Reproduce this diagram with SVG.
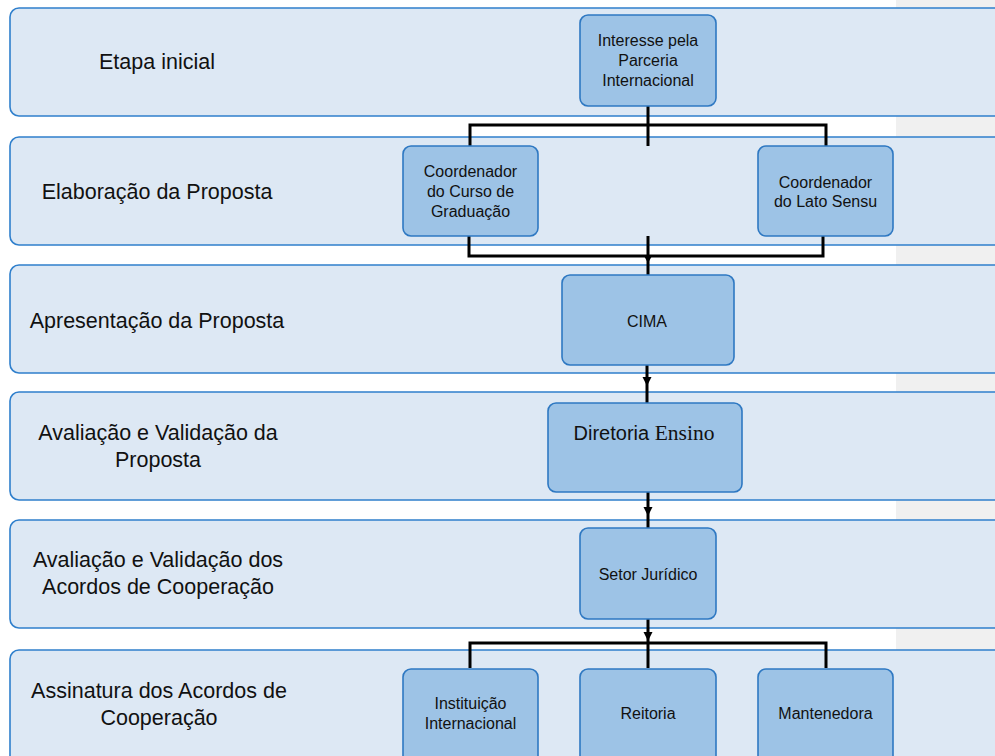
<svg xmlns="http://www.w3.org/2000/svg" width="995" height="756" viewBox="0 0 995 756">
<style>
.lane{fill:#dde8f4;stroke:#2f7fcc;stroke-width:1.6}
.node{fill:#9dc3e6;stroke:#2e78c2;stroke-width:1.6}
.lbl{font-family:"Liberation Sans",Arial,sans-serif;font-size:21.5px;fill:#111;text-anchor:middle}
.nt{font-family:"Liberation Sans",Arial,sans-serif;font-size:16px;fill:#111;text-anchor:middle}
.con{fill:none;stroke:#000;stroke-width:3}
.ah{fill:#000}
</style>
<rect x="0" y="0" width="995" height="756" fill="#ffffff"/>
<rect x="896" y="0" width="99" height="756" fill="#f0f0f0"/>

<g id="lane1"><rect class="lane" x="10" y="8" width="1010" height="108" rx="9"/><text class="lbl" x="157" y="69">Etapa inicial</text></g>
<g id="lane2"><rect class="lane" x="10" y="137" width="1010" height="108" rx="9"/><text class="lbl" x="157" y="199">Elaboração da Proposta</text></g>
<g id="lane3"><rect class="lane" x="10" y="265" width="1010" height="108" rx="9"/><text class="lbl" x="157" y="328">Apresentação da Proposta</text></g>
<g id="lane4"><rect class="lane" x="10" y="392" width="1010" height="108" rx="9"/><text class="lbl" x="158" y="440">Avaliação e Validação da</text><text class="lbl" x="158" y="467">Proposta</text></g>
<g id="lane5"><rect class="lane" x="10" y="520" width="1010" height="108" rx="9"/><text class="lbl" x="158" y="567">Avaliação e Validação dos</text><text class="lbl" x="158" y="594">Acordos de Cooperação</text></g>
<g id="lane6"><rect class="lane" x="10" y="650" width="1010" height="130" rx="9"/><text class="lbl" x="159" y="698">Assinatura dos Acordos de</text><text class="lbl" x="159" y="725">Cooperação</text></g>

<g id="connectors">
<path class="con" d="M648 106 V146 M470 147 V125 H826 V147"/>
<path class="con" d="M469 236 V256 H823 V236 M648 236 V275"/>
<polygon class="ah" points="643.5,255 652.5,255 648,263"/>
<path class="con" d="M647 365 V403"/>
<polygon class="ah" points="642.5,377 651.5,377 647,386"/>
<path class="con" d="M648 492 V528"/>
<polygon class="ah" points="643.5,507 652.5,507 648,516"/>
<path class="con" d="M648 619 V668 M470 668 V643 H826 V668"/>
<polygon class="ah" points="643.5,632 652.5,632 648,641"/>
</g>

<g id="n-interesse"><rect class="node" x="580" y="15" width="136" height="91" rx="8"/><text class="nt" x="648" y="46">Interesse pela</text><text class="nt" x="648" y="66">Parceria</text><text class="nt" x="648" y="86">Internacional</text></g>
<g id="n-coord-grad"><rect class="node" x="403" y="146" width="135" height="90" rx="8"/><text class="nt" x="470.5" y="177">Coordenador</text><text class="nt" x="470.5" y="197">do Curso de</text><text class="nt" x="470.5" y="217">Graduação</text></g>
<g id="n-coord-lato"><rect class="node" x="758" y="146" width="135" height="90" rx="8"/><text class="nt" x="825.5" y="188">Coordenador</text><text class="nt" x="825.5" y="207">do Lato Sensu</text></g>
<g id="n-cima"><rect class="node" x="562" y="275" width="172" height="90" rx="8"/><text class="nt" x="647" y="327">CIMA</text></g>
<g id="n-diretoria"><rect class="node" x="548" y="403" width="194" height="89" rx="8"/><text x="644" y="440" text-anchor="middle" fill="#111"><tspan font-family="'Liberation Sans',Arial,sans-serif" font-size="20">Diretoria </tspan><tspan font-family="'Liberation Serif','Times New Roman',serif" font-size="21.5">Ensino</tspan></text></g>
<g id="n-setor"><rect class="node" x="580" y="528" width="136" height="91" rx="8"/><text class="nt" x="648" y="580">Setor Jurídico</text></g>
<g id="n-instituicao"><rect class="node" x="403" y="669" width="135" height="100" rx="8"/><text class="nt" x="470.5" y="709">Instituição</text><text class="nt" x="470.5" y="729">Internacional</text></g>
<g id="n-reitoria"><rect class="node" x="580" y="669" width="136" height="100" rx="8"/><text class="nt" x="648" y="719">Reitoria</text></g>
<g id="n-mantenedora"><rect class="node" x="758" y="669" width="135" height="100" rx="8"/><text class="nt" x="825.5" y="719">Mantenedora</text></g>
</svg>
